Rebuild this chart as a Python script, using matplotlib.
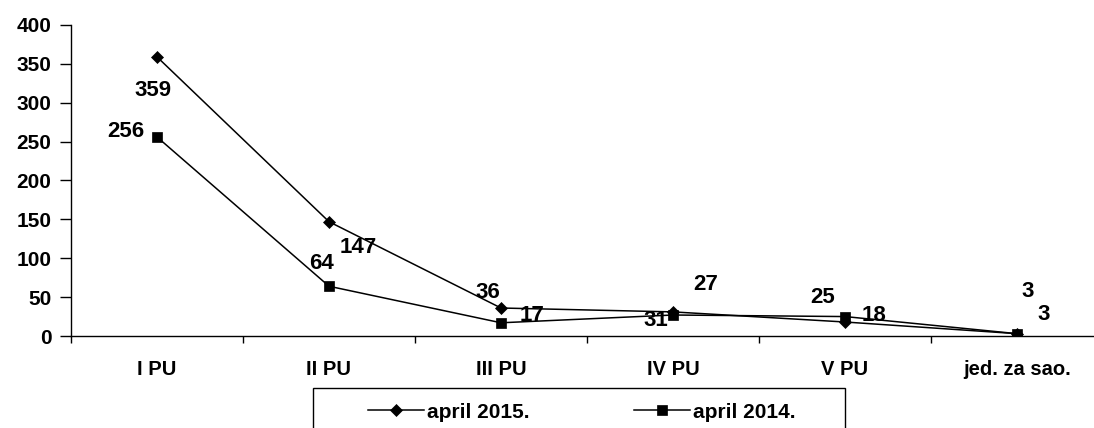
import numpy as np
import matplotlib
matplotlib.use("Agg")
import matplotlib.pyplot as plt
from matplotlib.lines import Line2D
from matplotlib.patches import Rectangle

plt.rcParams['font.family'] = ['Liberation Sans', 'DejaVu Sans']
plt.rcParams['font.weight'] = 'bold'

# data
categories = ['I PU', 'II PU', 'III PU', 'IV PU', 'V PU', 'jed. za sao.']
april_2015 = [359, 147, 36, 31, 18, 3]
april_2014 = [256, 64, 17, 27, 25, 3]
series_names = ['april 2015.', 'april 2014.']

# label offsets in pixels (x right, y up)
off_2015 = [(-4, -34), (29, -26), (-13, 16), (-17, -9), (29, 7), (27, 19)]
off_2014 = [(-31, 5), (-7, 23), (31, 7), (33, 31), (-22, 19), (11, 42)]

W, H = 1094, 428
fig = plt.figure(figsize=(W / 100, H / 100), dpi=100)
ax = fig.add_axes([71 / W, 92 / H, 1032 / W, 311 / H])

x = np.arange(len(categories))
ax.plot(x, april_2015, color='black', lw=1.1, marker='D', ms=6.3, mew=0.5)
ax.plot(x, april_2014, color='black', lw=1.1, marker='s', ms=7.5, mew=0.5)

for xi, v, o in zip(x, april_2015, off_2015):
    ax.annotate(str(v), (xi, v), xytext=o, textcoords='offset pixels',
                ha='center', va='center', fontsize=16, fontweight='bold')
for xi, v, o in zip(x, april_2014, off_2014):
    ax.annotate(str(v), (xi, v), xytext=o, textcoords='offset pixels',
                ha='center', va='center', fontsize=16, fontweight='bold')

ax.set_xlim(-0.5, len(categories) - 0.5)
ax.set_ylim(0, 400)
ax.set_yticks(np.arange(0, 401, 50))
ax.set_xticks(x)
ax.set_xticklabels(categories)
ax.set_xticks(np.arange(-0.5, len(categories), 1), minor=True)
ax.tick_params(axis='x', which='major', length=0, pad=17, labelsize=14.5)
ax.tick_params(axis='x', which='minor', length=5, width=1, direction='out')
ax.tick_params(axis='y', length=8, width=1, direction='out', pad=6, labelsize=15)
for lab in ax.get_xticklabels() + ax.get_yticklabels():
    lab.set_fontweight('bold')

ax.spines['top'].set_visible(False)
ax.spines['right'].set_visible(False)
ax.spines['left'].set_linewidth(1)
ax.spines['bottom'].set_linewidth(1)

handles = [
    Line2D([], [], color='black', lw=1.1, marker='D', ms=6.3, mew=0.5),
    Line2D([], [], color='black', lw=1.1, marker='s', ms=7.5, mew=0.5),
]
leg = fig.legend(handles, series_names, loc='center',
                 bbox_to_anchor=(582 / W, 1 - 412 / H),
                 ncol=2, frameon=False, borderaxespad=0,
                 handlelength=2.7, handletextpad=0.15, columnspacing=5.0,
                 prop={'size': 15, 'weight': 'bold'})

# legend frame, cut by the bottom edge as in the original
fig.patches.append(Rectangle((313 / W, -20 / H), (845 - 313) / W, (20 + 428 - 388) / H,
                             transform=fig.transFigure, fill=False,
                             edgecolor='black', lw=1))

fig.savefig('out.png', dpi=100)
